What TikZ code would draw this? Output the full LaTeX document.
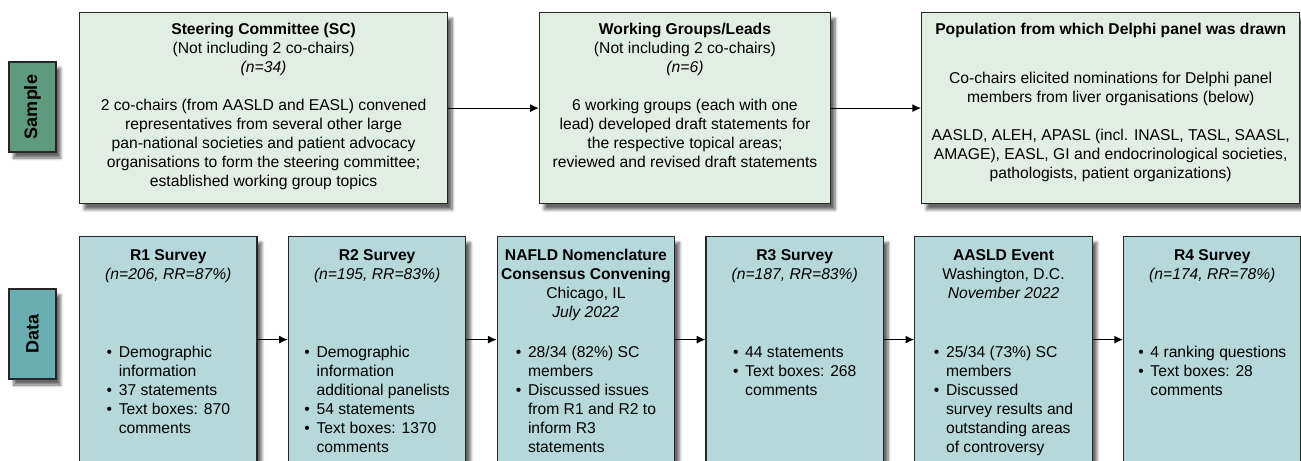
\documentclass[tikz,border=0pt]{standalone}
\usepackage{fontspec}
\setmainfont{Liberation Sans}
\usepackage{graphicx}
\usetikzlibrary{positioning,arrows.meta,shadows.blur}

\definecolor{samplefill}{HTML}{E1EFE3}
\definecolor{datafill}{HTML}{B6D8DB}
\definecolor{sampletag}{HTML}{5E9A7E}
\definecolor{datatag}{HTML}{6AAEB2}

\begin{document}
\begin{tikzpicture}
	[
	x=0.75pt, y=-0.75pt,
	node distance=22.6pt,
	font=\fontsize{11.75}{14.25}\selectfont,
	every node/.style={inner sep=0pt},
	stage/.style={rectangle,draw=black!85,line width=0.9pt,
		blur shadow={shadow xshift=3.5pt,shadow yshift=-4.5pt,shadow blur steps=8,shadow opacity=60}},
	topbox/.style={stage,fill=samplefill,minimum height=143.25pt},
	botbox/.style={stage,fill=datafill,minimum width=133.1pt,minimum height=183pt},
	tag/.style={stage,minimum width=35.25pt,minimum height=67.5pt,font=\fontsize{13.5}{16}\selectfont\bfseries},
	title/.style={anchor=north,align=center},
	flow/.style={line width=0.9pt,-{Latex[length=6.5pt,width=6pt]}},
	]
	\path[use as bounding box] (0,0) rectangle (1301,460);
	\clip (0,0) rectangle (1301,460);

	% row labels
	\node[tag,fill=sampletag] (sample) at (32.5,107) {\rotatebox{90}{Sample}};
	\node[tag,fill=datatag] (data) at (32.5,334) {\rotatebox{90}{Data}};

	% sample row
	\node[topbox,minimum width=276pt,anchor=north west] (sc) at (79,12) {};
	\node[topbox,minimum width=218.25pt,right=68pt of sc] (wg) {};
	\node[topbox,minimum width=283.5pt,right=67.5pt of wg] (pop) {};

	\node[title] (sc-txt) at ([yshift=-8.5pt]sc.north) {\textbf{Steering Committee (SC)}\\
		(Not including 2 co-chairs)\\ \textit{(n=34)}\\[14.25pt]
		2 co-chairs (from AASLD and EASL) convened\\
		representatives from several other large\\
		pan-national societies and patient advocacy\\
		organisations to form the steering committee;\\
		established working group topics};
	\node[title] (wg-txt) at ([yshift=-8.5pt]wg.north) {\textbf{Working Groups/Leads}\\
		(Not including 2 co-chairs)\\ \textit{(n=6)}\\[14.25pt]
		6 working groups (each with one\\
		lead) developed draft statements for\\
		the respective topical areas;\\
		reviewed and revised draft statements};
	\node[title] (pop-txt) at ([yshift=-8.5pt]pop.north) {\textbf{Population from which Delphi panel was drawn}\\[22.5pt]
		Co-chairs elicited nominations for Delphi panel\\
		members from liver organisations (below)\\[14.25pt]
		AASLD, ALEH, APASL (incl. INASL, TASL, SAASL,\\
		AMAGE), EASL, GI and endocrinological societies,\\
		pathologists, patient organizations)};

	% data row
	\node[botbox,anchor=north west] (r1) at (79,236) {};
	\foreach \prev/\cur in {r1/r2,r2/nafld,nafld/r3,r3/aasld,aasld/r4}
		\node[botbox,right=of \prev] (\cur) {};

	\node[title] (r1-hd) at ([yshift=-9.75pt]r1.north) {\textbf{R1 Survey}\\ \textit{(n=206, RR=87\%)}};
	\node[title] (r2-hd) at ([yshift=-9.75pt]r2.north) {\textbf{R2 Survey}\\ \textit{(n=195, RR=83\%)}};
	\node[title] (nafld-hd) at ([yshift=-9.75pt]nafld.north) {\textbf{NAFLD Nomenclature}\\
		\textbf{Consensus Convening}\\ Chicago, IL\\ \textit{July 2022}};
	\node[title] (r3-hd) at ([yshift=-9.75pt]r3.north) {\textbf{R3 Survey}\\ \textit{(n=187, RR=83\%)}};
	\node[title] (aasld-hd) at ([yshift=-9.75pt]aasld.north) {\textbf{AASLD Event}\\
		Washington, D.C.\\ \textit{November 2022}};
	\node[title] (r4-hd) at ([yshift=-9.75pt]r4.north) {\textbf{R4 Survey}\\ \textit{(n=174, RR=78\%)}};

	\node[title] (r1-list) at ([yshift=-81pt]r1.north) {\begin{tabular}{@{}l@{\hspace{5pt}}l@{}}
		\textbullet & Demographic\\ & information\\
		\textbullet & 37 statements\\
		\textbullet & Text boxes: 870\\ & comments\end{tabular}};
	\node[title] (r2-list) at ([yshift=-81pt]r2.north) {\begin{tabular}{@{}l@{\hspace{5pt}}l@{}}
		\textbullet & Demographic\\ & information\\ & additional panelists\\
		\textbullet & 54 statements\\
		\textbullet & Text boxes: 1370\\ & comments\end{tabular}};
	\node[title] (nafld-list) at ([yshift=-81pt]nafld.north) {\begin{tabular}{@{}l@{\hspace{5pt}}l@{}}
		\textbullet & 28/34 (82\%) SC\\ & members\\
		\textbullet & Discussed issues\\ & from R1 and R2 to\\ & inform R3\\ & statements\end{tabular}};
	\node[title] (r3-list) at ([yshift=-81pt]r3.north) {\begin{tabular}{@{}l@{\hspace{5pt}}l@{}}
		\textbullet & 44 statements\\
		\textbullet & Text boxes: 268\\ & comments\end{tabular}};
	\node[title] (aasld-list) at ([yshift=-81pt]aasld.north) {\begin{tabular}{@{}l@{\hspace{5pt}}l@{}}
		\textbullet & 25/34 (73\%) SC\\ & members\\
		\textbullet & Discussed\\ & survey results and\\ & outstanding areas\\ & of controversy\end{tabular}};
	\node[title] (r4-list) at ([yshift=-81pt]r4.north) {\begin{tabular}{@{}l@{\hspace{5pt}}l@{}}
		\textbullet & 4 ranking questions\\
		\textbullet & Text boxes: 28\\ & comments\end{tabular}};

	% connectors
	\draw[flow] (sc) -- (wg);
	\draw[flow] (wg) -- (pop);
	\foreach \a/\b in {r1/r2,r2/nafld,nafld/r3,r3/aasld,aasld/r4}
		\draw[flow] ([yshift=14.25pt]\a.east) -- ([yshift=14.25pt]\b.west);
\end{tikzpicture}
\end{document}
